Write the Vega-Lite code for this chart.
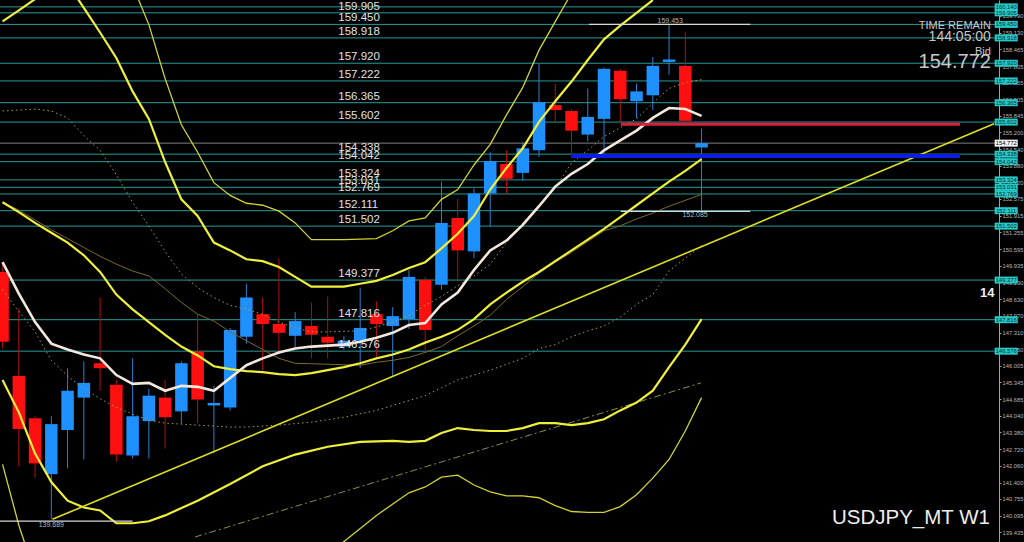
{
"$schema":"https://vega.github.io/schema/vega-lite/v6.json",
"width":999,"height":542,"autosize":{"type":"none"},"padding":{"left":0,"top":0,"right":25,"bottom":0},
"background":"#000000",
"config":{"view":{"stroke":null},"font":"Liberation Sans",
 "axisX":{"disable":true},
 "axisY":{"title":null,"grid":false,"format":".3f","labelFontSize":5.8,"labelColor":"#b8b8b8","labelPadding":1,"tickSize":2,"tickColor":"#a0a0a0","domainColor":"#a0a0a0","domainWidth":1,"labelFont":"Liberation Sans","labelOverlap":false,"labelBound":false}},
"datasets":{
"candles":[
{"i":0,"o":149.696,"h":150.082,"l":146.679,"c":146.950},
{"i":1,"o":145.597,"h":148.265,"l":142.039,"c":143.509},
{"i":2,"o":143.934,"h":144.012,"l":141.575,"c":142.155},
{"i":3,"o":141.730,"h":144.012,"l":139.951,"c":143.702},
{"i":4,"o":143.470,"h":145.906,"l":141.962,"c":145.017},
{"i":5,"o":144.746,"h":146.177,"l":142.310,"c":145.326},
{"i":6,"o":146.100,"h":148.690,"l":145.017,"c":145.906},
{"i":7,"o":145.249,"h":145.442,"l":142.232,"c":142.503},
{"i":8,"o":142.465,"h":146.293,"l":142.350,"c":144.011},
{"i":9,"o":143.818,"h":145.094,"l":142.350,"c":144.823},
{"i":10,"o":144.746,"h":145.442,"l":142.735,"c":143.973},
{"i":11,"o":144.205,"h":146.177,"l":143.702,"c":146.100},
{"i":12,"o":146.564,"h":148.033,"l":143.740,"c":144.669},
{"i":13,"o":144.437,"h":145.211,"l":142.542,"c":144.534},
{"i":14,"o":144.359,"h":147.490,"l":144.240,"c":147.414},
{"i":15,"o":147.144,"h":149.232,"l":146.873,"c":148.690},
{"i":16,"o":148.033,"h":148.690,"l":145.829,"c":147.646},
{"i":17,"o":147.646,"h":150.237,"l":146.486,"c":147.298},
{"i":18,"o":147.182,"h":148.110,"l":146.720,"c":147.762},
{"i":19,"o":147.569,"h":148.497,"l":146.293,"c":147.221},
{"i":20,"o":147.144,"h":148.729,"l":146.293,"c":146.912},
{"i":21,"o":146.757,"h":147.180,"l":146.640,"c":146.989},
{"i":22,"o":146.989,"h":149.077,"l":145.906,"c":147.492},
{"i":23,"o":148.033,"h":148.540,"l":146.293,"c":147.646},
{"i":24,"o":147.569,"h":148.310,"l":145.597,"c":147.956},
{"i":25,"o":147.840,"h":149.773,"l":147.453,"c":149.502},
{"i":26,"o":149.386,"h":149.502,"l":146.603,"c":147.414},
{"i":27,"o":149.193,"h":153.253,"l":149.000,"c":151.629},
{"i":28,"o":151.823,"h":152.596,"l":149.386,"c":150.547},
{"i":29,"o":150.508,"h":152.983,"l":150.237,"c":152.789},
{"i":30,"o":152.789,"h":154.414,"l":151.475,"c":154.065},
{"i":31,"o":153.949,"h":154.491,"l":152.789,"c":153.369},
{"i":32,"o":153.601,"h":154.800,"l":153.292,"c":154.568},
{"i":33,"o":154.491,"h":157.894,"l":154.220,"c":156.386},
{"i":34,"o":156.270,"h":157.120,"l":155.570,"c":156.076},
{"i":35,"o":156.038,"h":156.115,"l":154.336,"c":155.264},
{"i":36,"o":155.110,"h":156.927,"l":154.840,"c":155.806},
{"i":37,"o":155.728,"h":157.750,"l":154.336,"c":157.700},
{"i":38,"o":157.623,"h":157.700,"l":155.612,"c":156.502},
{"i":39,"o":156.424,"h":157.120,"l":155.767,"c":156.811},
{"i":40,"o":156.656,"h":158.165,"l":156.076,"c":157.816},
{"i":41,"o":157.971,"h":159.453,"l":157.468,"c":158.068},
{"i":42,"o":157.816,"h":159.170,"l":155.600,"c":155.651},
{"i":43,"o":154.600,"h":155.342,"l":152.085,"c":154.772}
],
"lines":[
{"s":"ma","i":0,"p":150.082},{"s":"ma","i":1,"p":148.845},{"s":"ma","i":2,"p":147.724},{"s":"ma","i":3,"p":146.873},{"s":"ma","i":4,"p":146.641},{"s":"ma","i":5,"p":146.447},{"s":"ma","i":6,"p":146.293},{"s":"ma","i":7,"p":145.635},{"s":"ma","i":8,"p":145.287},{"s":"ma","i":9,"p":145.326},{"s":"ma","i":10,"p":145.017},{"s":"ma","i":11,"p":145.210},{"s":"ma","i":12,"p":145.171},{"s":"ma","i":13,"p":145.017},{"s":"ma","i":14,"p":145.519},{"s":"ma","i":15,"p":146.022},{"s":"ma","i":16,"p":146.293},{"s":"ma","i":17,"p":146.525},{"s":"ma","i":18,"p":146.679},{"s":"ma","i":19,"p":146.757},{"s":"ma","i":20,"p":146.796},{"s":"ma","i":21,"p":146.834},{"s":"ma","i":22,"p":146.950},{"s":"ma","i":23,"p":147.105},{"s":"ma","i":24,"p":147.298},{"s":"ma","i":25,"p":147.608},{"s":"ma","i":26,"p":147.685},{"s":"ma","i":27,"p":148.420},{"s":"ma","i":28,"p":148.884},{"s":"ma","i":29,"p":149.773},{"s":"ma","i":30,"p":150.546},{"s":"ma","i":31,"p":150.933},{"s":"ma","i":32,"p":151.552},{"s":"ma","i":33,"p":152.287},{"s":"ma","i":34,"p":153.060},{"s":"ma","i":35,"p":153.563},{"s":"ma","i":36,"p":153.949},{"s":"ma","i":37,"p":154.491},{"s":"ma","i":38,"p":154.878},{"s":"ma","i":39,"p":155.264},{"s":"ma","i":40,"p":155.767},{"s":"ma","i":41,"p":156.154},{"s":"ma","i":42,"p":156.115},{"s":"ma","i":43,"p":155.844},
{"s":"mid","i":0,"p":156.038},{"s":"mid","i":1,"p":156.076},{"s":"mid","i":2,"p":156.115},{"s":"mid","i":3,"p":156.038},{"s":"mid","i":4,"p":155.767},{"s":"mid","i":5,"p":155.071},{"s":"mid","i":6,"p":154.491},{"s":"mid","i":7,"p":153.524},{"s":"mid","i":8,"p":152.441},{"s":"mid","i":9,"p":151.513},{"s":"mid","i":10,"p":150.508},{"s":"mid","i":11,"p":149.618},{"s":"mid","i":12,"p":149.077},{"s":"mid","i":13,"p":148.690},{"s":"mid","i":14,"p":148.381},{"s":"mid","i":15,"p":148.226},{"s":"mid","i":16,"p":148.033},{"s":"mid","i":17,"p":147.724},{"s":"mid","i":18,"p":147.492},{"s":"mid","i":19,"p":147.337},{"s":"mid","i":20,"p":147.337},{"s":"mid","i":21,"p":147.356},{"s":"mid","i":22,"p":147.376},{"s":"mid","i":23,"p":147.530},{"s":"mid","i":24,"p":147.724},{"s":"mid","i":25,"p":147.994},{"s":"mid","i":26,"p":148.381},{"s":"mid","i":27,"p":148.729},{"s":"mid","i":28,"p":149.154},{"s":"mid","i":29,"p":149.541},{"s":"mid","i":30,"p":150.005},{"s":"mid","i":31,"p":150.856},{"s":"mid","i":32,"p":151.629},{"s":"mid","i":33,"p":152.325},{"s":"mid","i":34,"p":153.021},{"s":"mid","i":35,"p":153.988},{"s":"mid","i":36,"p":154.491},{"s":"mid","i":37,"p":155.032},{"s":"mid","i":38,"p":155.380},{"s":"mid","i":39,"p":155.728},{"s":"mid","i":40,"p":156.347},{"s":"mid","i":41,"p":156.927},{"s":"mid","i":42,"p":157.159},{"s":"mid","i":43,"p":157.275},
{"s":"lowdot","i":0,"p":149.000},{"s":"lowdot","i":1,"p":148.149},{"s":"lowdot","i":2,"p":147.337},{"s":"lowdot","i":3,"p":146.215},{"s":"lowdot","i":4,"p":145.597},{"s":"lowdot","i":5,"p":145.094},{"s":"lowdot","i":6,"p":144.707},{"s":"lowdot","i":7,"p":144.359},{"s":"lowdot","i":8,"p":144.089},{"s":"lowdot","i":9,"p":143.857},{"s":"lowdot","i":10,"p":143.741},{"s":"lowdot","i":11,"p":143.702},{"s":"lowdot","i":12,"p":143.663},{"s":"lowdot","i":13,"p":143.625},{"s":"lowdot","i":14,"p":143.586},{"s":"lowdot","i":15,"p":143.586},{"s":"lowdot","i":17,"p":143.663},{"s":"lowdot","i":19,"p":143.779},{"s":"lowdot","i":21,"p":143.973},{"s":"lowdot","i":23,"p":144.243},{"s":"lowdot","i":25,"p":144.630},{"s":"lowdot","i":26,"p":144.823},{"s":"lowdot","i":27,"p":145.133},{"s":"lowdot","i":28,"p":145.442},{"s":"lowdot","i":29,"p":145.635},{"s":"lowdot","i":30,"p":145.829},{"s":"lowdot","i":31,"p":146.061},{"s":"lowdot","i":32,"p":146.293},{"s":"lowdot","i":33,"p":146.679},{"s":"lowdot","i":34,"p":146.834},{"s":"lowdot","i":35,"p":147.144},{"s":"lowdot","i":36,"p":147.376},{"s":"lowdot","i":37,"p":147.569},{"s":"lowdot","i":38,"p":147.917},{"s":"lowdot","i":39,"p":148.420},{"s":"lowdot","i":40,"p":148.806},{"s":"lowdot","i":41,"p":149.734},{"s":"lowdot","i":42,"p":150.237},{"s":"lowdot","i":43,"p":150.740},
{"s":"brown","i":0,"p":152.441},{"s":"brown","i":1,"p":152.132},{"s":"brown","i":2,"p":151.745},{"s":"brown","i":3,"p":151.359},{"s":"brown","i":4,"p":151.011},{"s":"brown","i":5,"p":150.663},{"s":"brown","i":6,"p":150.314},{"s":"brown","i":7,"p":150.005},{"s":"brown","i":8,"p":149.734},{"s":"brown","i":9,"p":149.541},{"s":"brown","i":10,"p":149.038},{"s":"brown","i":11,"p":148.497},{"s":"brown","i":12,"p":148.033},{"s":"brown","i":13,"p":147.762},{"s":"brown","i":14,"p":147.337},{"s":"brown","i":15,"p":146.989},{"s":"brown","i":16,"p":146.641},{"s":"brown","i":17,"p":146.293},{"s":"brown","i":18,"p":146.099},{"s":"brown","i":19,"p":146.080},{"s":"brown","i":20,"p":146.061},{"s":"brown","i":21,"p":146.041},{"s":"brown","i":22,"p":146.022},{"s":"brown","i":23,"p":146.138},{"s":"brown","i":24,"p":146.215},{"s":"brown","i":25,"p":146.331},{"s":"brown","i":26,"p":146.525},{"s":"brown","i":27,"p":146.757},{"s":"brown","i":28,"p":147.182},{"s":"brown","i":29,"p":147.569},{"s":"brown","i":30,"p":147.994},{"s":"brown","i":31,"p":148.613},{"s":"brown","i":32,"p":149.116},{"s":"brown","i":33,"p":149.657},{"s":"brown","i":34,"p":150.082},{"s":"brown","i":35,"p":150.469},{"s":"brown","i":36,"p":150.895},{"s":"brown","i":37,"p":151.320},{"s":"brown","i":38,"p":151.513},{"s":"brown","i":39,"p":151.784},{"s":"brown","i":40,"p":152.016},{"s":"brown","i":41,"p":152.287},{"s":"brown","i":42,"p":152.519},{"s":"brown","i":43,"p":152.751},
{"s":"L1","i":8,"p":160.987},{"s":"L1","i":9,"p":159.441},{"s":"L1","i":10,"p":157.314},{"s":"L1","i":11,"p":155.496},{"s":"L1","i":12,"p":154.413},{"s":"L1","i":13,"p":153.215},{"s":"L1","i":14,"p":152.712},{"s":"L1","i":15,"p":152.403},{"s":"L1","i":16,"p":152.325},{"s":"L1","i":17,"p":152.093},{"s":"L1","i":18,"p":151.629},{"s":"L1","i":19,"p":150.972},{"s":"L1","i":20,"p":150.972},{"s":"L1","i":21,"p":150.972},{"s":"L1","i":22,"p":150.991},{"s":"L1","i":23,"p":151.011},{"s":"L1","i":24,"p":151.320},{"s":"L1","i":25,"p":151.707},{"s":"L1","i":26,"p":151.823},{"s":"L1","i":27,"p":152.557},{"s":"L1","i":28,"p":152.944},{"s":"L1","i":29,"p":153.911},{"s":"L1","i":30,"p":154.723},{"s":"L1","i":31,"p":155.883},{"s":"L1","i":32,"p":156.966},{"s":"L1","i":33,"p":158.435},{"s":"L1","i":34,"p":159.557},{"s":"L1","i":35,"p":160.678},
{"s":"L2","i":4,"p":161.065},{"s":"L2","i":5,"p":160.098},{"s":"L2","i":6,"p":159.131},{"s":"L2","i":7,"p":158.126},{"s":"L2","i":8,"p":156.811},{"s":"L2","i":9,"p":155.728},{"s":"L2","i":10,"p":154.027},{"s":"L2","i":11,"p":152.557},{"s":"L2","i":12,"p":151.900},{"s":"L2","i":13,"p":150.856},{"s":"L2","i":14,"p":150.546},{"s":"L2","i":15,"p":150.198},{"s":"L2","i":16,"p":150.121},{"s":"L2","i":17,"p":149.889},{"s":"L2","i":18,"p":149.502},{"s":"L2","i":19,"p":149.116},{"s":"L2","i":20,"p":149.116},{"s":"L2","i":21,"p":149.116},{"s":"L2","i":22,"p":149.232},{"s":"L2","i":23,"p":149.348},{"s":"L2","i":24,"p":149.580},{"s":"L2","i":25,"p":149.850},{"s":"L2","i":26,"p":150.082},{"s":"L2","i":27,"p":150.624},{"s":"L2","i":28,"p":151.204},{"s":"L2","i":29,"p":151.900},{"s":"L2","i":30,"p":152.944},{"s":"L2","i":31,"p":153.795},{"s":"L2","i":32,"p":154.568},{"s":"L2","i":33,"p":155.612},{"s":"L2","i":34,"p":156.424},{"s":"L2","i":35,"p":157.198},{"s":"L2","i":36,"p":158.048},{"s":"L2","i":37,"p":158.861},{"s":"L2","i":38,"p":159.402},{"s":"L2","i":39,"p":159.905},{"s":"L2","i":40,"p":160.407},
{"s":"L3","i":0,"p":152.441},{"s":"L3","i":1,"p":152.055},{"s":"L3","i":2,"p":151.629},{"s":"L3","i":3,"p":151.243},{"s":"L3","i":4,"p":150.856},{"s":"L3","i":5,"p":150.353},{"s":"L3","i":6,"p":149.696},{"s":"L3","i":7,"p":148.806},{"s":"L3","i":8,"p":148.226},{"s":"L3","i":9,"p":147.724},{"s":"L3","i":10,"p":147.221},{"s":"L3","i":11,"p":146.757},{"s":"L3","i":12,"p":146.409},{"s":"L3","i":13,"p":145.983},{"s":"L3","i":14,"p":145.867},{"s":"L3","i":15,"p":145.790},{"s":"L3","i":16,"p":145.751},{"s":"L3","i":17,"p":145.674},{"s":"L3","i":18,"p":145.635},{"s":"L3","i":19,"p":145.713},{"s":"L3","i":20,"p":145.829},{"s":"L3","i":21,"p":145.945},{"s":"L3","i":22,"p":146.099},{"s":"L3","i":23,"p":146.293},{"s":"L3","i":24,"p":146.447},{"s":"L3","i":25,"p":146.641},{"s":"L3","i":26,"p":146.912},{"s":"L3","i":27,"p":147.144},{"s":"L3","i":28,"p":147.414},{"s":"L3","i":29,"p":147.840},{"s":"L3","i":30,"p":148.420},{"s":"L3","i":31,"p":148.884},{"s":"L3","i":32,"p":149.309},{"s":"L3","i":33,"p":149.696},{"s":"L3","i":34,"p":150.121},{"s":"L3","i":35,"p":150.546},{"s":"L3","i":36,"p":150.972},{"s":"L3","i":37,"p":151.397},{"s":"L3","i":38,"p":151.861},{"s":"L3","i":39,"p":152.325},{"s":"L3","i":40,"p":152.789},{"s":"L3","i":41,"p":153.253},{"s":"L3","i":42,"p":153.679},{"s":"L3","i":43,"p":154.143},
{"s":"L4","i":0,"p":145.442},{"s":"L4","i":1,"p":144.166},{"s":"L4","i":2,"p":142.542},{"s":"L4","i":3,"p":141.420},{"s":"L4","i":4,"p":140.686},{"s":"L4","i":5,"p":140.415},{"s":"L4","i":6,"p":140.299},{"s":"L4","i":7,"p":139.796},{"s":"L4","i":8,"p":139.796},{"s":"L4","i":9,"p":139.874},{"s":"L4","i":10,"p":140.106},{"s":"L4","i":12,"p":140.686},{"s":"L4","i":14,"p":141.343},{"s":"L4","i":16,"p":142.039},{"s":"L4","i":18,"p":142.503},{"s":"L4","i":20,"p":142.812},{"s":"L4","i":22,"p":143.006},{"s":"L4","i":24,"p":143.045},{"s":"L4","i":25,"p":143.006},{"s":"L4","i":26,"p":143.045},{"s":"L4","i":27,"p":143.354},{"s":"L4","i":28,"p":143.547},{"s":"L4","i":29,"p":143.470},{"s":"L4","i":30,"p":143.431},{"s":"L4","i":31,"p":143.431},{"s":"L4","i":32,"p":143.547},{"s":"L4","i":33,"p":143.741},{"s":"L4","i":34,"p":143.741},{"s":"L4","i":35,"p":143.663},{"s":"L4","i":36,"p":143.741},{"s":"L4","i":37,"p":143.895},{"s":"L4","i":38,"p":144.243},{"s":"L4","i":39,"p":144.553},{"s":"L4","i":40,"p":145.017},{"s":"L4","i":41,"p":145.945},{"s":"L4","i":42,"p":146.834},{"s":"L4","i":43,"p":147.840},
{"s":"L5","i":0,"p":142.116},{"s":"L5","i":1,"p":139.719},{"s":"L5","i":2,"p":137.785},{"s":"L5","i":20,"p":138.559},{"s":"L5","i":23,"p":140.106},{"s":"L5","i":25,"p":140.995},{"s":"L5","i":26,"p":141.227},{"s":"L5","i":27,"p":141.614},{"s":"L5","i":28,"p":141.691},{"s":"L5","i":29,"p":141.304},{"s":"L5","i":30,"p":141.034},{"s":"L5","i":31,"p":140.879},{"s":"L5","i":32,"p":140.879},{"s":"L5","i":33,"p":140.802},{"s":"L5","i":34,"p":140.492},{"s":"L5","i":35,"p":140.260},{"s":"L5","i":36,"p":140.222},{"s":"L5","i":37,"p":140.222},{"s":"L5","i":38,"p":140.454},{"s":"L5","i":39,"p":140.918},{"s":"L5","i":40,"p":141.575},{"s":"L5","i":41,"p":142.310},{"s":"L5","i":42,"p":143.431},{"s":"L5","i":43,"p":144.746},
{"s":"corner","i":0,"p":159.572},{"s":"corner","i":1,"p":160.001},{"s":"corner","i":2,"p":160.446},
{"s":"tl","i":3.07,"p":139.951},{"s":"tl","i":60.99,"p":155.535},
{"s":"dd","i":11.84,"p":139.255},{"s":"dd","i":42.96,"p":145.326}
],
"levels":[
{"p":160.14,"t":""},{"p":159.905,"t":"159.905"},{"p":159.450,"t":"159.450"},{"p":158.918,"t":"158.918"},{"p":157.920,"t":"157.920"},{"p":157.222,"t":"157.222"},{"p":156.365,"t":"156.365"},{"p":155.602,"t":"155.602"},{"p":154.338,"t":"154.338"},{"p":154.042,"t":"154.042"},{"p":153.324,"t":"153.324"},{"p":153.031,"t":"153.031"},{"p":152.769,"t":"152.769"},{"p":152.111,"t":"152.111"},{"p":151.502,"t":"151.502"},{"p":149.377,"t":"149.377"},{"p":147.816,"t":"147.816"},{"p":146.576,"t":"146.576"}
]
},
"layer":[
{"data":{"name":"levels"},"mark":{"type":"rule","color":"#2a9a9a","strokeWidth":1},
 "encoding":{"y":{"field":"p","type":"quantitative","scale":{"domain":[139.255,160.214],"nice":false,"zero":false},
  "axis":{"orient":"right","labelOverlap":false,"labelBound":false,"tickCount":40,"values":[139.435,140.095,140.755,141.4,142.06,142.72,143.38,144.04,144.685,145.345,146.005,146.65,147.31,147.97,148.63,149.29,149.935,150.595,151.255,151.915,152.575,153.22,153.88,154.54,155.2,155.845,156.505,157.165,157.805,158.465,159.13,159.79]}}}},
{"data":{"values":[{"p":154.772}]},"mark":{"type":"rule","color":"#808080","strokeWidth":1},"encoding":{"y":{"field":"p","type":"quantitative"}}},
{"data":{"name":"candles"},"mark":{"type":"rule","strokeWidth":1},
 "encoding":{"x":{"field":"i","type":"quantitative","scale":{"domain":[0.15,60.99],"nice":false,"zero":false},"axis":null},
  "y":{"field":"l","type":"quantitative"},"y2":{"field":"h"},
  "color":{"condition":{"test":"datum.c >= datum.o","value":"#2f7fd0"},"value":"#b01010"}}},
{"data":{"name":"candles"},"mark":{"type":"bar","orient":"vertical","size":12.5},
 "encoding":{"x":{"field":"i","type":"quantitative","axis":null},
  "y":{"field":"o","type":"quantitative"},"y2":{"field":"c"},
  "color":{"condition":{"test":"datum.c >= datum.o","value":"#1e90ff"},"value":"#ff1010"}}},
{"data":{"name":"lines"},"transform":[{"filter":"datum.s == 'mid' || datum.s == 'lowdot'"}],
 "mark":{"type":"line","clip":true,"color":"#b09a48","strokeWidth":1,"strokeDash":[1.5,3]},
 "encoding":{"x":{"field":"i","type":"quantitative","axis":null},"y":{"field":"p","type":"quantitative"},"detail":{"field":"s"}}},
{"data":{"name":"lines"},"transform":[{"filter":"datum.s == 'brown'"}],
 "mark":{"type":"line","clip":true,"color":"#7d6a2a","strokeWidth":1},
 "encoding":{"x":{"field":"i","type":"quantitative","axis":null},"y":{"field":"p","type":"quantitative"}}},
{"data":{"name":"lines"},"transform":[{"filter":"datum.s == 'dd'"}],
 "mark":{"type":"line","clip":true,"color":"#8e8e40","strokeWidth":1,"strokeDash":[7,3,2,3]},
 "encoding":{"x":{"field":"i","type":"quantitative","axis":null},"y":{"field":"p","type":"quantitative"}}},
{"data":{"name":"lines"},"transform":[{"filter":"datum.s == 'L1' || datum.s == 'L5'"}],
 "mark":{"type":"line","clip":true,"color":"#d2d232","strokeWidth":1.3},
 "encoding":{"x":{"field":"i","type":"quantitative","axis":null},"y":{"field":"p","type":"quantitative"},"detail":{"field":"s"}}},
{"data":{"name":"lines"},"transform":[{"filter":"datum.s == 'L2' || datum.s == 'L3' || datum.s == 'L4' || datum.s == 'corner'"}],
 "mark":{"type":"line","clip":true,"color":"#f0f03c","strokeWidth":2.2},
 "encoding":{"x":{"field":"i","type":"quantitative","axis":null},"y":{"field":"p","type":"quantitative"},"detail":{"field":"s"}}},
{"data":{"name":"lines"},"transform":[{"filter":"datum.s == 'tl'"}],
 "mark":{"type":"line","clip":true,"color":"#dede22","strokeWidth":1.6},
 "encoding":{"x":{"field":"i","type":"quantitative","axis":null},"y":{"field":"p","type":"quantitative"}}},
{"data":{"name":"lines"},"transform":[{"filter":"datum.s == 'ma'"}],
 "mark":{"type":"line","clip":true,"color":"#f4e8dc","strokeWidth":2.6},
 "encoding":{"x":{"field":"i","type":"quantitative","axis":null},"y":{"field":"p","type":"quantitative"}}},
{"data":{"values":[{"a":38.03,"b":58.9,"p":155.52}]},"mark":{"type":"rule","color":"#dc1e3c","strokeWidth":3},
 "encoding":{"x":{"field":"a","type":"quantitative","axis":null},"x2":{"field":"b"},"y":{"field":"p","type":"quantitative"}}},
{"data":{"values":[{"a":34.98,"b":58.9,"p":154.27}]},"mark":{"type":"rule","color":"#0a1ee8","strokeWidth":4},
 "encoding":{"x":{"field":"a","type":"quantitative","axis":null},"x2":{"field":"b"},"y":{"field":"p","type":"quantitative"}}},
{"data":{"values":[{"a":36.08,"b":46.0,"p":159.453},{"a":38.03,"b":46.0,"p":152.085},{"a":-2.0,"b":8.0,"p":139.88}]},"mark":{"type":"rule","color":"#d8d8d8","strokeWidth":1.3,"clip":true},
 "encoding":{"x":{"field":"a","type":"quantitative","axis":null},"x2":{"field":"b"},"y":{"field":"p","type":"quantitative"}}},
{"data":{"values":[{"x":41.07,"p":159.453,"t":"159.453","b":"bottom"},{"x":42.6,"p":152.085,"t":"152.085","b":"top"},{"x":3.0,"p":139.88,"t":"139.689","b":"top"}]},
 "mark":{"type":"text","fontSize":7,"color":"#b8b8b8","align":"center","baseline":{"expr":"datum.b"}},
 "encoding":{"x":{"field":"x","type":"quantitative","axis":null},"y":{"field":"p","type":"quantitative"},"text":{"field":"t"}}},
{"data":{"name":"levels"},"mark":{"type":"text","fontSize":11.5,"color":"#e2e2e2","align":"left","baseline":"bottom","dy":-1},
 "encoding":{"x":{"datum":20.65,"type":"quantitative"},"y":{"field":"p","type":"quantitative"},"text":{"field":"t"}}},
{"data":{"name":"levels"},"mark":{"type":"bar","orient":"horizontal","size":7,"color":"#28c8c8"},
 "encoding":{"x":{"datum":61.03,"type":"quantitative"},"x2":{"datum":62.45},"y":{"field":"p","type":"quantitative"}}},
{"data":{"name":"levels"},"mark":{"type":"text","fontSize":5.8,"color":"#003030","align":"center","baseline":"middle"},
 "encoding":{"x":{"datum":61.74,"type":"quantitative"},"y":{"field":"p","type":"quantitative"},"text":{"field":"p","type":"quantitative","format":".3f"}}},
{"data":{"values":[{"p":154.772}]},"mark":{"type":"bar","orient":"horizontal","size":7,"color":"#f4f4f4"},
 "encoding":{"x":{"datum":61.03,"type":"quantitative"},"x2":{"datum":62.45},"y":{"field":"p","type":"quantitative"}}},
{"data":{"values":[{"p":154.772}]},"mark":{"type":"text","fontSize":5.8,"color":"#000000","align":"center","baseline":"middle"},
 "encoding":{"x":{"datum":61.74,"type":"quantitative"},"y":{"field":"p","type":"quantitative"},"text":{"field":"p","type":"quantitative","format":".3f"}}},
{"data":{"values":[{"p":159.40,"t":"TIME REMAIN","f":11},{"p":158.96,"t":"144:05:00","f":14},{"p":158.38,"t":"Bid","f":11},{"p":157.96,"t":"154.772","f":20}]},
 "mark":{"type":"text","color":"#c8c8c8","align":"right","baseline":"middle","fontSize":{"expr":"datum.f"}},
 "encoding":{"x":{"datum":60.8,"type":"quantitative"},"y":{"field":"p","type":"quantitative"},"text":{"field":"t"}}},
{"data":{"values":[{"p":148.884,"t":"14"}]},"mark":{"type":"text","color":"#f0f0f0","align":"left","baseline":"middle","fontSize":13,"fontWeight":"bold"},
 "encoding":{"x":{"datum":60.13,"type":"quantitative"},"y":{"field":"p","type":"quantitative"},"text":{"field":"t"}}},
{"data":{"values":[{"p":139.99,"t":"USDJPY_MT W1"}]},"mark":{"type":"text","color":"#eeeeee","align":"right","baseline":"middle","fontSize":20.5},
 "encoding":{"x":{"datum":60.74,"type":"quantitative"},"y":{"field":"p","type":"quantitative"},"text":{"field":"t"}}}
]
}
